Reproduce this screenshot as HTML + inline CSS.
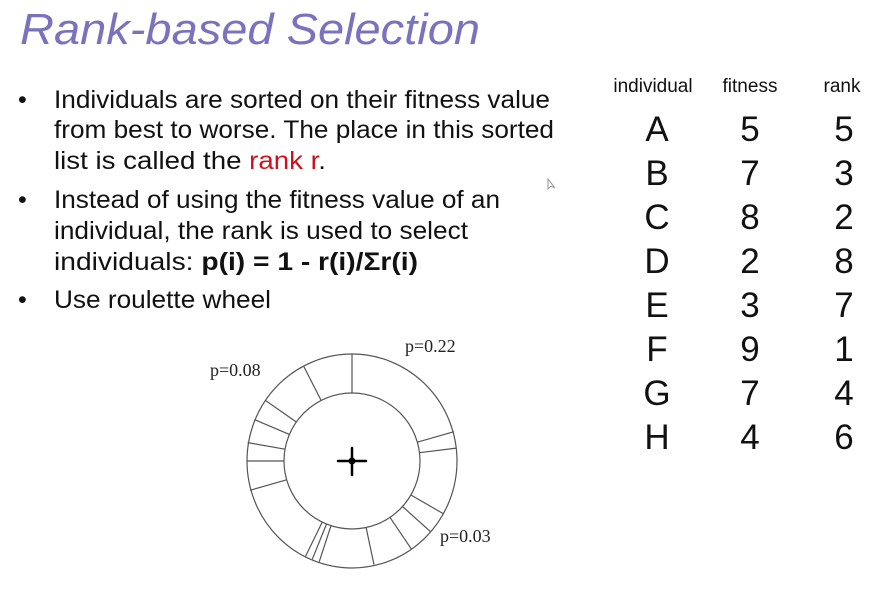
<!DOCTYPE html>
<html><head><meta charset="utf-8"><style>
html,body{margin:0;padding:0;background:#fff;}
svg{display:block;}
</style></head><body>
<svg width="876" height="595" viewBox="0 0 876 595" xmlns="http://www.w3.org/2000/svg">
<rect width="876" height="595" fill="#fff"/>
<text x="20" y="44" font-family="Liberation Sans, sans-serif" font-style="italic" font-size="44" fill="#7b72bd" textLength="460" lengthAdjust="spacingAndGlyphs">Rank-based Selection</text>
<g font-family="Liberation Sans, sans-serif" font-size="25" fill="#111">
<text x="18" y="108">•</text>
<text x="54" y="108" textLength="496" lengthAdjust="spacingAndGlyphs">Individuals are sorted on their fitness value</text>
<text x="54" y="138" textLength="500" lengthAdjust="spacingAndGlyphs">from best to worse. The place in this sorted</text>
<text x="54" y="169" textLength="272" lengthAdjust="spacingAndGlyphs">list is called the <tspan fill="#d0101c">rank r</tspan>.</text>
<text x="18" y="208">•</text>
<text x="54" y="208" textLength="446" lengthAdjust="spacingAndGlyphs">Instead of using the fitness value of an</text>
<text x="54" y="239" textLength="414" lengthAdjust="spacingAndGlyphs">individual, the rank is used to select</text>
<text x="54" y="270" textLength="364" lengthAdjust="spacingAndGlyphs">individuals: <tspan font-weight="bold">p(i) = 1 - r(i)/Σr(i)</tspan></text>
<text x="18" y="308">•</text>
<text x="54" y="308" textLength="217" lengthAdjust="spacingAndGlyphs">Use roulette wheel</text>
</g>
<path d="M548 179 l0 10 l3 -3 l4 2 z" fill="none" stroke="#999" stroke-width="1"/>
<g font-family="Liberation Sans, sans-serif" fill="#111">
<g font-size="19">
<text x="653" y="92" text-anchor="middle">individual</text>
<text x="750" y="92" text-anchor="middle">fitness</text>
<text x="842" y="92" text-anchor="middle">rank</text>
</g>
<g font-size="35" text-anchor="middle">
<text x="657" y="141">A</text><text x="750" y="141">5</text><text x="844" y="141">5</text>
<text x="657" y="185">B</text><text x="750" y="185">7</text><text x="844" y="185">3</text>
<text x="657" y="229">C</text><text x="750" y="229">8</text><text x="844" y="229">2</text>
<text x="657" y="273">D</text><text x="750" y="273">2</text><text x="844" y="273">8</text>
<text x="657" y="317">E</text><text x="750" y="317">3</text><text x="844" y="317">7</text>
<text x="657" y="361">F</text><text x="750" y="361">9</text><text x="844" y="361">1</text>
<text x="657" y="405">G</text><text x="750" y="405">7</text><text x="844" y="405">4</text>
<text x="657" y="449">H</text><text x="750" y="449">4</text><text x="844" y="449">6</text>
</g>
</g>
<g stroke="#555" stroke-width="1.2" fill="none">
<ellipse cx="352" cy="461" rx="105" ry="107"/>
<circle cx="352" cy="461" r="68"/>
<line x1="352" y1="393" x2="352" y2="354"/>
<line x1="321.1" y1="400.4" x2="303.9" y2="366.6"/>
<line x1="296.3" y1="422.0" x2="265.2" y2="400.2"/>
<line x1="289.4" y1="434.4" x2="254.4" y2="419.6"/>
<line x1="285.0" y1="449.2" x2="247.6" y2="442.6"/>
<line x1="284" y1="461" x2="247" y2="461"/>
<line x1="286.6" y1="479.8" x2="250.1" y2="490.3"/>
<line x1="322.2" y1="522.1" x2="305.6" y2="556.3"/>
<line x1="326.5" y1="524.0" x2="312.3" y2="559.3"/>
<line x1="331.0" y1="525.7" x2="319.2" y2="561.8"/>
<line x1="366.1" y1="527.5" x2="374.0" y2="564.7"/>
<line x1="390.0" y1="517.4" x2="411.3" y2="548.9"/>
<line x1="402.5" y1="506.5" x2="430.8" y2="531.9"/>
<line x1="410.9" y1="495.0" x2="443.8" y2="514.0"/>
<line x1="419.5" y1="452.7" x2="456.3" y2="448.1"/>
<line x1="417.3" y1="442.2" x2="453.9" y2="431.7"/>
</g>
<g stroke="#000" stroke-linecap="round">
<line x1="338" y1="461" x2="366" y2="461" stroke-width="2.5"/>
<line x1="352" y1="448" x2="352" y2="475" stroke-width="2.5"/>
<circle cx="352" cy="461" r="3" fill="#000"/>
</g>
<g font-family="Liberation Serif, serif" font-size="18" fill="#222">
<text x="405" y="352">p=0.22</text>
<text x="210" y="376">p=0.08</text>
<text x="440" y="542">p=0.03</text>
</g>
</svg>
</body></html>
